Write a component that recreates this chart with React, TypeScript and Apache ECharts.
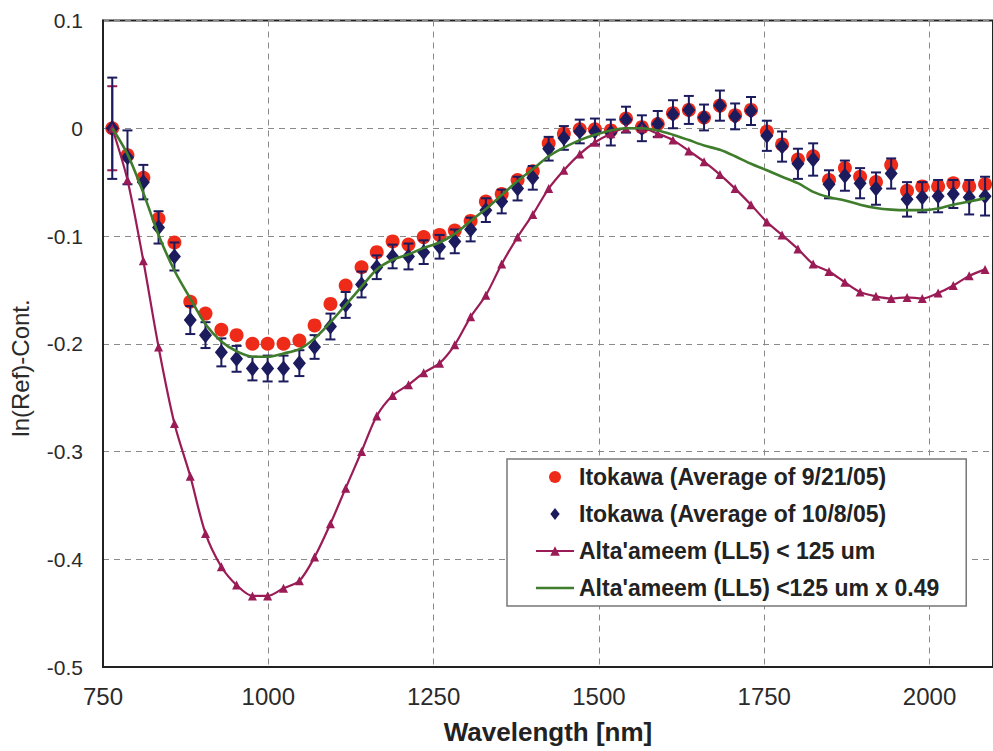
import React, { useEffect, useRef } from "react";
import * as echarts from "echarts";

const wavelengths = [764, 787, 811, 834, 858, 882, 905, 929, 952, 976, 999, 1023, 1047, 1070, 1094, 1117, 1141, 1164, 1188, 1212, 1235, 1259, 1282, 1306, 1329, 1353, 1377, 1400, 1424, 1447, 1471, 1494, 1518, 1541, 1565, 1589, 1612, 1636, 1659, 1683, 1706, 1730, 1754, 1777, 1801, 1824, 1848, 1872, 1895, 1919, 1942, 1966, 1989, 2013, 2036, 2060, 2084];

const itokawa0921 = [0, -0.025, -0.046, -0.084, -0.106, -0.161, -0.172, -0.187, -0.192, -0.2, -0.2, -0.2, -0.197, -0.183, -0.163, -0.146, -0.129, -0.115, -0.105, -0.108, -0.101, -0.099, -0.095, -0.086, -0.068, -0.061, -0.048, -0.04, -0.014, -0.005, -0.001, -0.001, -0.002, 0.009, 0.001, 0.004, 0.014, 0.017, 0.01, 0.021, 0.012, 0.017, -0.003, -0.015, -0.029, -0.026, -0.048, -0.037, -0.045, -0.05, -0.034, -0.058, -0.054, -0.054, -0.051, -0.054, -0.052];

const itokawa1008 = [0, -0.027, -0.05, -0.092, -0.119, -0.178, -0.192, -0.208, -0.214, -0.223, -0.223, -0.223, -0.218, -0.203, -0.184, -0.164, -0.145, -0.129, -0.119, -0.119, -0.115, -0.11, -0.105, -0.094, -0.076, -0.068, -0.056, -0.046, -0.019, -0.009, -0.003, -0.003, -0.004, 0.008, 0, 0.004, 0.013, 0.017, 0.01, 0.021, 0.011, 0.016, -0.007, -0.017, -0.033, -0.029, -0.052, -0.044, -0.051, -0.056, -0.042, -0.066, -0.064, -0.063, -0.061, -0.064, -0.063];

const err1008 = [0.047, 0.025, 0.016, 0.015, 0.013, 0.013, 0.012, 0.013, 0.012, 0.011, 0.012, 0.012, 0.012, 0.011, 0.012, 0.012, 0.012, 0.011, 0.011, 0.012, 0.011, 0.011, 0.011, 0.011, 0.011, 0.011, 0.011, 0.011, 0.011, 0.011, 0.011, 0.012, 0.012, 0.012, 0.012, 0.012, 0.013, 0.013, 0.012, 0.014, 0.012, 0.013, 0.014, 0.014, 0.014, 0.015, 0.013, 0.014, 0.014, 0.015, 0.014, 0.016, 0.014, 0.015, 0.013, 0.016, 0.018];

const err0921 = [0.039, 0, 0, 0, 0, 0, 0, 0, 0, 0, 0, 0, 0, 0, 0, 0, 0, 0, 0, 0, 0, 0, 0, 0, 0, 0, 0, 0, 0, 0, 0, 0, 0, 0, 0, 0, 0, 0, 0, 0, 0, 0, 0, 0, 0, 0, 0, 0, 0, 0, 0, 0, 0, 0, 0, 0, 0];

const altaameem = [0, -0.048, -0.123, -0.203, -0.274, -0.323, -0.376, -0.407, -0.424, -0.434, -0.434, -0.427, -0.42, -0.398, -0.367, -0.334, -0.3, -0.267, -0.248, -0.238, -0.227, -0.218, -0.201, -0.175, -0.155, -0.126, -0.101, -0.08, -0.056, -0.039, -0.024, -0.013, -0.005, 0, 0, -0.005, -0.011, -0.021, -0.031, -0.043, -0.056, -0.071, -0.087, -0.099, -0.112, -0.126, -0.133, -0.143, -0.152, -0.156, -0.158, -0.157, -0.158, -0.153, -0.146, -0.137, -0.131];

const altaameemScaled = [0, -0.024, -0.06, -0.099, -0.132, -0.158, -0.182, -0.198, -0.207, -0.212, -0.212, -0.209, -0.205, -0.195, -0.18, -0.164, -0.147, -0.131, -0.122, -0.117, -0.111, -0.106, -0.098, -0.086, -0.075, -0.062, -0.049, -0.038, -0.026, -0.018, -0.011, -0.006, -0.002, 0, 0, -0.002, -0.006, -0.011, -0.016, -0.02, -0.026, -0.033, -0.039, -0.045, -0.051, -0.059, -0.064, -0.067, -0.071, -0.074, -0.0755, -0.076, -0.076, -0.0745, -0.071, -0.068, -0.065];

const seriesNames = [
  "Itokawa (Average of 9/21/05)",
  "Itokawa (Average of 10/8/05)",
  "Alta'ameem (LL5) < 125 um",
  "Alta'ameem (LL5) <125 um x 0.49",
];

const RED = "#ee2a18";
const NAVY = "#1b1b5e";
const MAGENTA = "#9a1b55";
const GREEN = "#3f7d2c";

function pairs(ys: number[]) {
  return wavelengths.map((x, i) => [x, ys[i]]);
}

function errData(ys: number[], es: number[]) {
  return wavelengths.map((x, i) => [x, ys[i], es[i]]);
}

function errRender(color: string) {
  return (params: any, api: any) => {
    const x = api.value(0);
    const y = api.value(1);
    const e = api.value(2);
    if (!e) return null;
    const top = api.coord([x, y + e]);
    const bot = api.coord([x, y - e]);
    const w = 5;
    const style = { stroke: color, lineWidth: 2 };
    return {
      type: "group",
      children: [
        { type: "line", shape: { x1: top[0], y1: top[1], x2: bot[0], y2: bot[1] }, style },
        { type: "line", shape: { x1: top[0] - w, y1: top[1], x2: top[0] + w, y2: top[1] }, style },
        { type: "line", shape: { x1: bot[0] - w, y1: bot[1], x2: bot[0] + w, y2: bot[1] }, style },
      ],
    };
  };
}

export default function App() {
  const ref = useRef<HTMLDivElement>(null);
  useEffect(() => {
    const chart = echarts.init(ref.current!, null, { renderer: "svg" });
    const option: any = {
      animation: false,
      backgroundColor: "#ffffff",
      grid: {
        left: 103,
        top: 20.5,
        right: -4,
        bottom: 84,
        show: true,
        borderColor: "#222",
        borderWidth: 2,
        backgroundColor: "transparent",
      },
      xAxis: {
        type: "value",
        min: 750,
        max: 2096,
        interval: 250,
        name: "Wavelength [nm]",
        nameLocation: "middle",
        nameGap: 52,
        nameTextStyle: {
          fontFamily: "'Liberation Sans', Arial, sans-serif",
          fontWeight: "bold",
          fontSize: 26,
          color: "#222",
        },
        axisLine: { show: true, onZero: false, lineStyle: { color: "#222", width: 2 } },
        axisTick: { show: false },
        axisLabel: {
          margin: 17,
          showMaxLabel: false,
          fontFamily: "'Liberation Sans', Arial, sans-serif",
          fontSize: 24,
          color: "#2a2a2a",
          formatter: (v: number) => String(v),
        },
        splitLine: { show: true, lineStyle: { color: "#8a8a8a", width: 1, type: [6, 5] } },
      },
      yAxis: {
        type: "value",
        min: -0.5,
        max: 0.1,
        interval: 0.1,
        axisLine: { show: true, onZero: false, lineStyle: { color: "#222", width: 2 } },
        axisTick: { show: false },
        axisLabel: {
          margin: 20,
          fontFamily: "'Liberation Sans', Arial, sans-serif",
          fontSize: 21,
          color: "#2a2a2a",
          formatter: (v: number) => (Math.abs(v) < 1e-9 ? "0" : v.toFixed(1)),
        },
        splitLine: { show: true, lineStyle: { color: "#8a8a8a", width: 1, type: [6, 5] } },
      },
      graphic: [
        {
          type: "text",
          x: 20,
          y: 368,
          rotation: Math.PI / 2,
          style: {
            text: "ln(Ref)-Cont.",
            fontFamily: "'Liberation Sans', Arial, sans-serif",
            fontSize: 24,
            fill: "#2a2a2a",
            align: "center",
            verticalAlign: "middle",
          },
        },
      ],
      legend: {
        orient: "vertical",
        left: 507,
        top: 459,
        padding: [5, 27, 5, 28],
        itemGap: 11,
        itemWidth: 38,
        itemHeight: 12,
        symbolKeepAspect: true,
        backgroundColor: "#ffffff",
        borderColor: "#777",
        borderWidth: 1.5,
        borderRadius: 0,
        data: [
          { name: seriesNames[0], icon: "path://M0,-1A1,1,0,1,1,0,1A1,1,0,1,1,0,-1Z", itemStyle: { color: RED } },
          { name: seriesNames[1], icon: "path://M0,-1L0.78,0L0,1L-0.78,0Z", itemStyle: { color: NAVY } },
          { name: seriesNames[2] },
          { name: seriesNames[3], icon: "path://M0,0H38V2.6H0Z", itemStyle: { color: GREEN } },
        ],
        textStyle: {
          fontFamily: "'Liberation Sans', Arial, sans-serif",
          fontWeight: "bold",
          fontSize: 23,
          lineHeight: 26,
          color: "#222",
        },
      },
      series: [
        {
          name: "err0921",
          type: "custom",
          renderItem: errRender(MAGENTA),
          data: errData(itokawa0921, err0921),
          z: 2,
          silent: true,
        },
        {
          name: seriesNames[0],
          type: "scatter",
          symbol: "circle",
          symbolSize: 14,
          itemStyle: { color: RED, opacity: 1 },
          data: pairs(itokawa0921),
          z: 3,
        },
        {
          name: "err1008",
          type: "custom",
          renderItem: errRender(NAVY),
          data: errData(itokawa1008, err1008),
          z: 4,
          silent: true,
        },
        {
          name: seriesNames[1],
          type: "scatter",
          symbol: "diamond",
          symbolSize: [13, 16],
          itemStyle: { color: NAVY, opacity: 1 },
          data: pairs(itokawa1008),
          z: 5,
        },
        {
          name: seriesNames[2],
          type: "line",
          smooth: 0.3,
          symbol: "triangle",
          symbolSize: 9,
          showSymbol: true,
          lineStyle: { color: MAGENTA, width: 2.2 },
          itemStyle: { color: MAGENTA },
          data: pairs(altaameem),
          z: 6,
        },
        {
          name: seriesNames[3],
          type: "line",
          smooth: 0.3,
          symbol: "none",
          lineStyle: { color: GREEN, width: 2.6 },
          itemStyle: { color: GREEN },
          data: pairs(altaameemScaled),
          z: 7,
        },
      ],
    };
    chart.setOption(option);
    return () => chart.dispose();
  }, []);
  return (
    <div
      ref={ref}
      style={{ position: "fixed", left: 0, top: 0, width: 993, height: 751, background: "#fff" }}
    />
  );
}
